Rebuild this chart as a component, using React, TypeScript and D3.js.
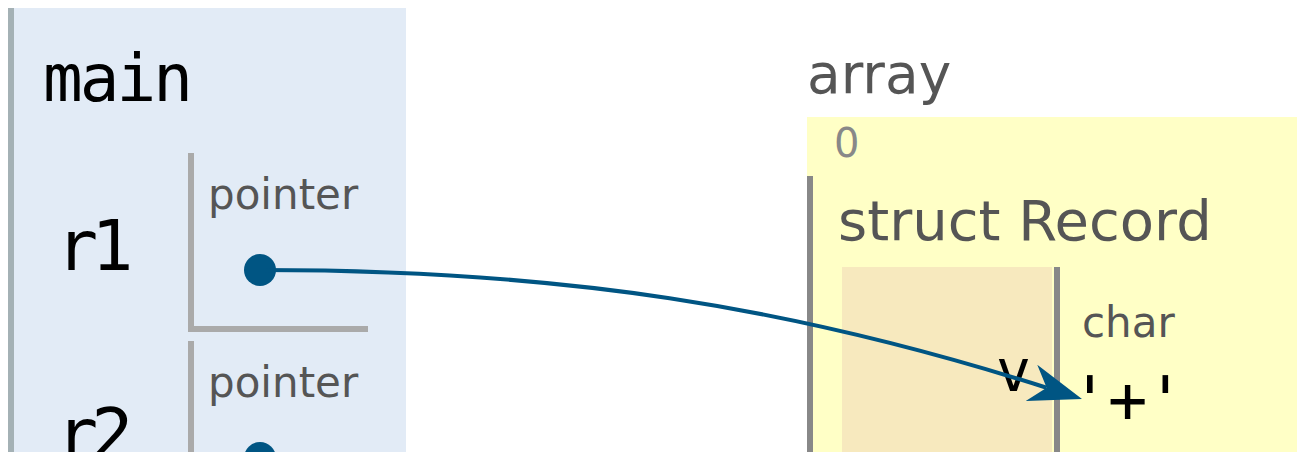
import { useEffect, useRef } from "react";
import * as d3 from "d3";

const WIDTH = 1297;
const HEIGHT = 452;

// stack frame
const FRAME_NAME = "main";
const VAR_NAMES = ["r1", "r2"];
const VAR_TYPES = ["pointer", "pointer"];

// heap object
const HEAP_LABEL = "array";
const ARRAY_INDICES = ["0"];
const STRUCT_NAME = "struct Record";
const FIELD_NAMES = ["v"];
const FIELD_TYPES = ["char"];
const FIELD_VALUES = ["'+'"];

const MONO = '"DejaVu Sans Mono", monospace';
const SANS = '"DejaVu Sans", Verdana, sans-serif';
const POINTER = "#005583";

export default function App() {
    const ref = useRef<SVGSVGElement>(null);

    useEffect(() => {
        const svg = d3.select(ref.current);
        svg.selectAll("*").remove();

        // row positions of the stack variables
        const rowY = d3.scaleLinear().domain([0, 1]).range([153, 341]);

        // ---- stack frame
        const frame = svg.append("g");
        frame.append("rect").attr("x", 8).attr("y", 8).attr("width", 398).attr("height", HEIGHT).attr("fill", "#e2ebf6");
        frame.append("rect").attr("x", 8).attr("y", 8).attr("width", 6).attr("height", HEIGHT).attr("fill", "#a4b1b5");
        frame.append("text")
            .attr("x", 43).attr("y", 101)
            .attr("font-family", MONO).attr("font-size", 66).attr("letter-spacing", -3)
            .attr("fill", "#000")
            .text(FRAME_NAME);

        const rows = frame.selectAll("g.var")
            .data(VAR_NAMES.map((name, i) => ({ name, type: VAR_TYPES[i], i })))
            .join("g")
            .attr("class", "var")
            .attr("transform", (d) => `translate(0,${rowY(d.i)})`);

        rows.append("text")
            .attr("x", 56).attr("y", 117)
            .attr("font-family", MONO).attr("font-size", 70).attr("letter-spacing", -7)
            .attr("fill", "#000")
            .text((d) => d.name);
        rows.append("rect").attr("x", 188).attr("y", 0).attr("width", 6).attr("height", 178).attr("fill", "#aaa");
        rows.append("rect").attr("x", 188).attr("y", 173).attr("width", 180).attr("height", 6).attr("fill", "#aaa");
        rows.append("text")
            .attr("x", 208).attr("y", 56)
            .attr("font-family", SANS).attr("font-size", 42)
            .attr("fill", "#555")
            .text((d) => d.type);
        rows.append("circle").attr("cx", 260).attr("cy", 117).attr("r", 16).attr("fill", POINTER);

        // ---- heap
        const heap = svg.append("g");
        heap.append("text")
            .attr("x", 807).attr("y", 93)
            .attr("font-family", SANS).attr("font-size", 55)
            .attr("fill", "#555")
            .text(HEAP_LABEL);
        heap.append("rect").attr("x", 807).attr("y", 117).attr("width", WIDTH - 807).attr("height", HEIGHT).attr("fill", "#ffffc6");
        heap.selectAll("text.idx")
            .data(ARRAY_INDICES)
            .join("text")
            .attr("class", "idx")
            .attr("x", 834).attr("y", 157)
            .attr("font-family", SANS).attr("font-size", 40)
            .attr("fill", "#888")
            .text((d) => d);

        heap.append("rect").attr("x", 807).attr("y", 176).attr("width", 6).attr("height", HEIGHT).attr("fill", "#888");
        heap.append("text")
            .attr("x", 838).attr("y", 240)
            .attr("font-family", SANS).attr("font-size", 56)
            .attr("fill", "#555")
            .text(STRUCT_NAME);

        const fields = heap.selectAll("g.field")
            .data(FIELD_NAMES.map((name, i) => ({ name, type: FIELD_TYPES[i], value: FIELD_VALUES[i] })))
            .join("g")
            .attr("class", "field");
        fields.append("rect").attr("x", 842).attr("y", 267).attr("width", 210).attr("height", HEIGHT).attr("fill", "#f7e9be");
        fields.append("rect").attr("x", 1054).attr("y", 267).attr("width", 6).attr("height", HEIGHT).attr("fill", "#888");
        fields.append("text")
            .attr("x", 1031).attr("y", 391)
            .attr("text-anchor", "end")
            .attr("font-family", MONO).attr("font-size", 58)
            .attr("fill", "#000")
            .text((d) => d.name);
        fields.append("text")
            .attr("x", 1082).attr("y", 337)
            .attr("font-family", SANS).attr("font-size", 42)
            .attr("fill", "#555")
            .text((d) => d.type);
        fields.append("text")
            .attr("x", 1070).attr("y", 423)
            .attr("font-family", MONO).attr("font-size", 66).attr("letter-spacing", -2)
            .attr("fill", "#000")
            .text((d) => d.value);

        // ---- pointer arrow r1 -> array[0].v
        const start: [number, number] = [260, 270];
        const c1: [number, number] = [560, 270];
        const c2: [number, number] = [790, 306];
        const tip: [number, number] = [1082, 399];
        const len = Math.hypot(tip[0] - c2[0], tip[1] - c2[1]);
        const dx = (tip[0] - c2[0]) / len;
        const dy = (tip[1] - c2[1]) / len;
        const L = 53, W = 38, fold = 0.7;
        const notch: [number, number] = [tip[0] - dx * L * fold, tip[1] - dy * L * fold];

        const p = d3.path();
        p.moveTo(start[0], start[1]);
        p.bezierCurveTo(c1[0], c1[1], c2[0], c2[1], notch[0], notch[1]);
        svg.append("path")
            .attr("d", p.toString())
            .attr("fill", "none")
            .attr("stroke", POINTER)
            .attr("stroke-width", 4);

        const bx = tip[0] - dx * L, by = tip[1] - dy * L;
        const head = d3.path();
        head.moveTo(tip[0], tip[1]);
        head.lineTo(bx - dy * W / 2, by + dx * W / 2);
        head.lineTo(notch[0], notch[1]);
        head.lineTo(bx + dy * W / 2, by - dx * W / 2);
        head.closePath();
        svg.append("path").attr("d", head.toString()).attr("fill", POINTER);
    }, []);

    return (
        <div style={{ position: "absolute", left: 0, top: 0, width: WIDTH, height: HEIGHT, overflow: "hidden" }}>
            <svg ref={ref} width={WIDTH} height={HEIGHT} style={{ display: "block", background: "#fff" }} />
        </div>
    );
}
